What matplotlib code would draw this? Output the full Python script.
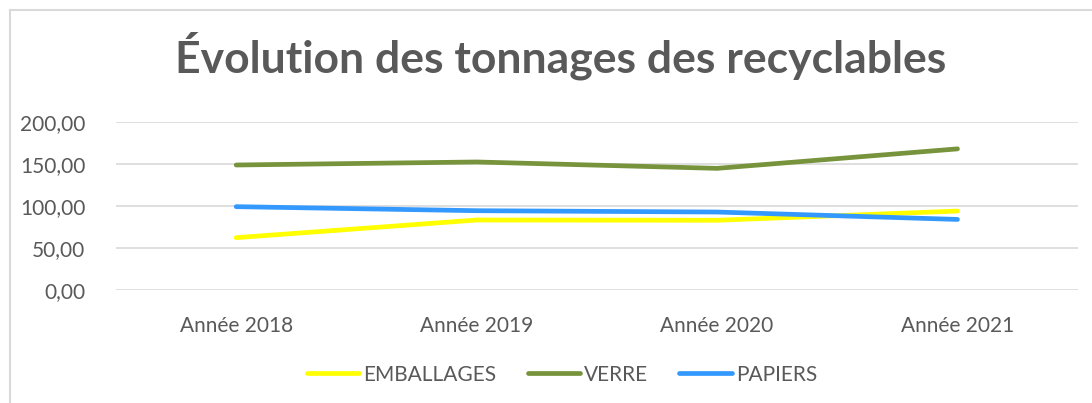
import matplotlib.pyplot as plt
from matplotlib.lines import Line2D

plt.rcParams['font.family'] = ['Lato', 'DejaVu Sans']

categories = ['Année 2018', 'Année 2019', 'Année 2020', 'Année 2021']
emballages = [62.3, 83.3, 83.0, 94.0]
verre = [148.8, 152.4, 144.8, 168.0]
papiers = [99.2, 94.4, 92.8, 84.0]
yticks = [0, 50, 100, 150, 200]

text_col = '#595959'
grid_col = '#d9d9d9'

fig = plt.figure(figsize=(10.92, 4.03), dpi=100)
ax = fig.add_axes([0.1062, 0.2804, 0.8807, 0.4169])

x = range(len(categories))
series = [('EMBALLAGES', emballages, '#FFFF00'),
          ('VERRE', verre, '#77933C'),
          ('PAPIERS', papiers, '#3399FF')]
for name, vals, col in series:
    ax.plot(x, vals, color=col, lw=3.4, solid_capstyle='round', label=name, zorder=3)

ax.set_xlim(-0.5, len(categories) - 0.5)
ax.set_ylim(0, 200)
ax.set_yticks(yticks)
ax.set_yticklabels([('%.2f' % v).replace('.', ',') for v in yticks])
ax.set_xticks(list(x))
ax.set_xticklabels(categories)
ax.grid(axis='y', color=grid_col, lw=1.2)
ax.set_axisbelow(True)
for s in ax.spines.values():
    s.set_visible(False)
ax.tick_params(length=0, labelsize=15, colors=text_col)
ax.tick_params(axis='y', pad=22)
ax.tick_params(axis='x', pad=19)

fig.text(0.513, 0.82, 'Évolution des tonnages des recyclables', ha='center', va='baseline',
         fontsize=32, fontweight='bold', color=text_col)

leg = fig.legend(loc='center', bbox_to_anchor=(0.5147, 0.07), ncol=3, frameon=False,
                 fontsize=15, handlelength=2.5, handletextpad=0.2, columnspacing=1.5)
for t in leg.get_texts():
    t.set_color(text_col)

# chart border (cropped: only top and left edges visible)
fig.add_artist(Line2D([10 / 1092, 1], [1 - 10 / 403, 1 - 10 / 403], color=grid_col, lw=1.5,
                      transform=fig.transFigure))
fig.add_artist(Line2D([10 / 1092, 10 / 1092], [0, 1 - 10 / 403], color=grid_col, lw=1.5,
                      transform=fig.transFigure))

fig.savefig('out.png', dpi=100)
